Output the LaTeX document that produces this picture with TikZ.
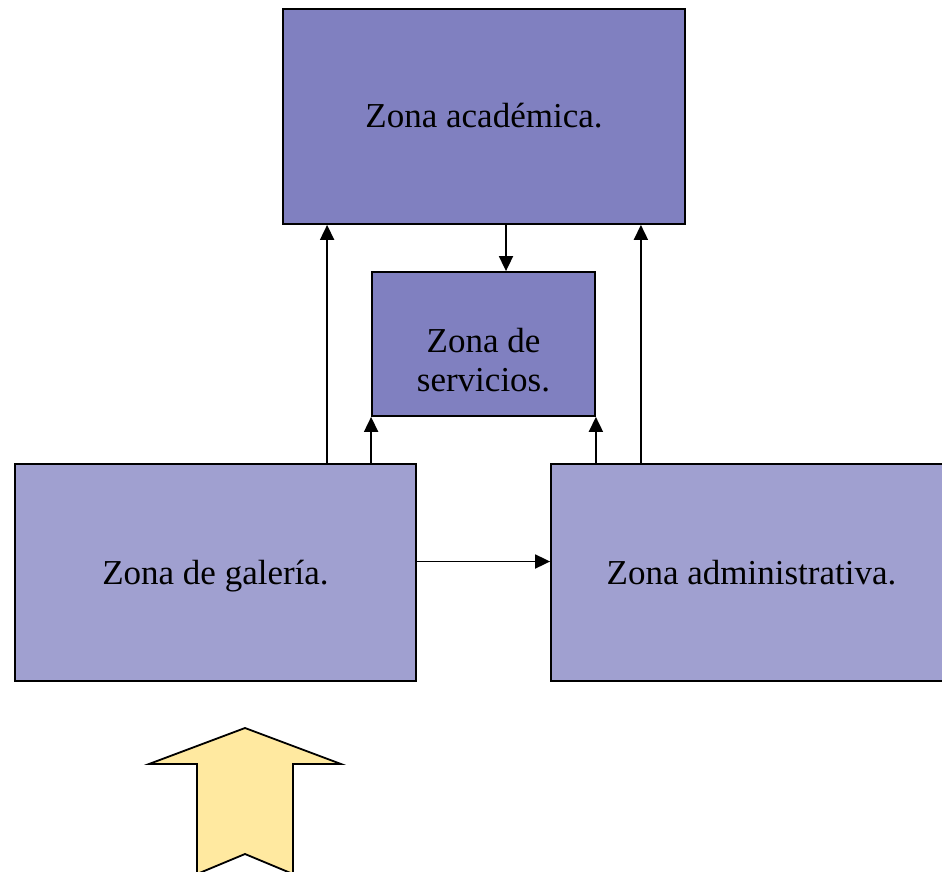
\documentclass[tikz,border=0pt]{standalone}
\usepackage{fontspec}
\setmainfont{Liberation Serif}
\usetikzlibrary{positioning,arrows.meta,calc}
\definecolor{DarkZone}{RGB}{128,128,192}
\definecolor{LightZone}{RGB}{160,160,208}
\definecolor{EntryYellow}{RGB}{255,233,160}
\tikzset{
  flow/.style={-{Triangle[length=15pt,width=14pt]},line width=1.8pt,draw=black},
  zonebox/.style={draw=black,line width=1.8pt,align=center,
    text height=23pt,text depth=0pt,
    font=\fontsize{35}{39}\selectfont},
  darkbox/.style={zonebox,fill=DarkZone},
  lightbox/.style={zonebox,fill=LightZone,minimum width=401pt,minimum height=217pt},
  entry/.style={draw=black,line width=1.8pt,fill=EntryYellow,line join=miter}
}
\begin{document}
\begin{tikzpicture}[x=1pt,y=-1pt]
  \useasboundingbox (0,0) rectangle (942,872);
  \clip (0,0) rectangle (942,872);
  \node[darkbox,minimum width=402pt,minimum height=215pt] (academica) at (484,116.5) {Zona académica.};
  \node[darkbox,minimum width=223pt,minimum height=144pt,text height=94pt] (servicios) at (483.5,344) {Zona de\\servicios.};
  \node[lightbox] (galeria) at (215.5,572.5) {Zona de galería.};
  \node[lightbox] (admin) at (751.5,572.5) {Zona administrativa.};
  % puntos de paso de las flechas
  \coordinate (upleft) at ([xshift=45pt]academica.south west);
  \coordinate (upright) at ([xshift=-45pt]academica.south east);
  \coordinate (down) at ([xshift=22pt]academica.south);
  \coordinate (across) at ([yshift=11pt]galeria.east);
  \draw[flow] (upleft |- galeria.north) -- (upleft);
  \draw[flow] (upright |- admin.north) -- (upright);
  \draw[flow] (down) -- (down |- servicios.north);
  \draw[flow] (servicios.south west |- galeria.north) -- (servicios.south west);
  \draw[flow] (servicios.south east |- admin.north) -- (servicios.south east);
  \draw[flow] (across) -- (across -| admin.west);
  % entrada
  \draw[entry] (245,728) -- (341,764) -- (293,764) -- (293,874)
    -- (245,854) -- (197,874) -- (197,764) -- (149,764) -- cycle;
\end{tikzpicture}
\end{document}
